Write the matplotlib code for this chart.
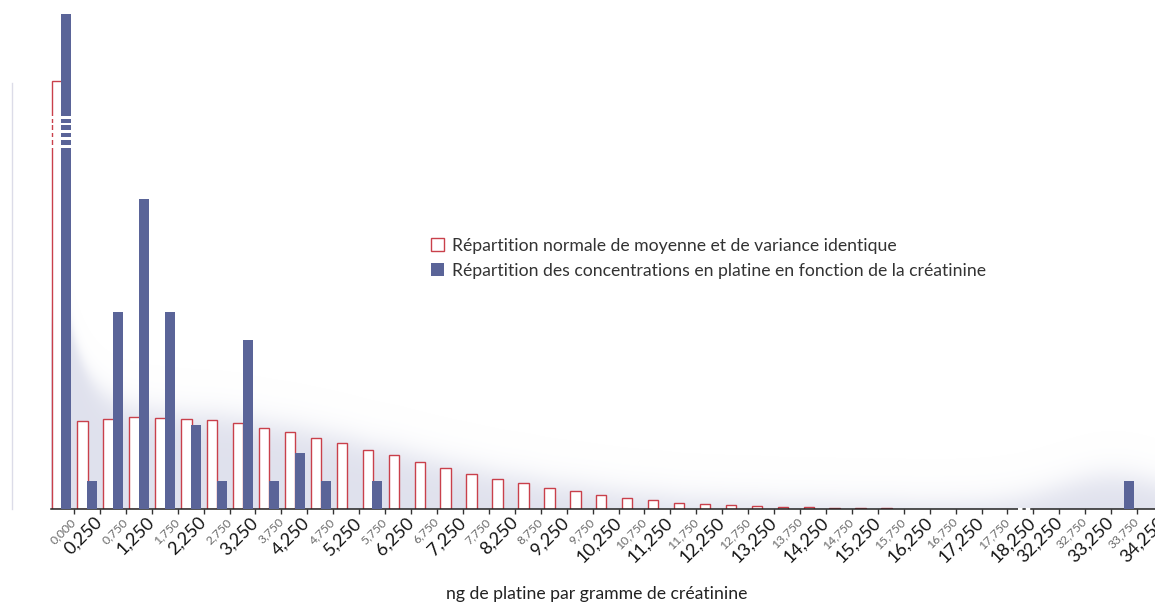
import numpy as np
import matplotlib
matplotlib.use('Agg')
import matplotlib.pyplot as plt
from matplotlib.lines import Line2D
from matplotlib.patches import Rectangle

plt.rcParams['font.family'] = ['Lato', 'DejaVu Sans']

# bin labels (ng Pt / g creatinine)
tick_labels = ['0,000', '0,250', '0,750', '1,250', '1,750', '2,250', '2,750', '3,250',
               '3,750', '4,250', '4,750', '5,250', '5,750', '6,250', '6,750', '7,250',
               '7,750', '8,250', '8,750', '9,250', '9,750', '10,250', '10,750', '11,250',
               '11,750', '12,250', '12,750', '13,250', '13,750', '14,250', '14,750', '15,250',
               '15,750', '16,250', '16,750', '17,250', '17,750', '18,250', '32,250', '32,750',
               '33,250', '33,750', '34,250']

# expected counts for a normal law with same mean / variance
normal_values = [15.2, 3.12, 3.21, 3.26, 3.24, 3.19, 3.16, 3.05, 2.87, 2.73, 2.54, 2.34,
                 2.09, 1.91, 1.67, 1.45, 1.26, 1.06, 0.92, 0.74, 0.64, 0.51, 0.39, 0.32,
                 0.22, 0.18, 0.14, 0.12, 0.07, 0.07, 0.05, 0.04, 0.04, 0, 0, 0,
                 0, 0, 0, 0, 0, 0, 0]

# observed counts
platine_values = [17.55, 1, 7, 11, 7, 3, 1, 6, 1, 2, 1, 0,
                  1, 0, 0, 0, 0, 0, 0, 0, 0, 0, 0, 0,
                  0, 0, 0, 0, 0, 0, 0, 0, 0, 0, 0, 0,
                  0, 0, 0, 0, 0, 1, 0]

legend_labels = ['Répartition normale de moyenne et de variance identique',
                 'Répartition des concentrations en platine en fonction de la créatinine']

red = '#c9404b'
blue = '#5a6498'

W, H = 1155, 603
fig = plt.figure(figsize=(W / 100, H / 100), dpi=100)

xmin, xmax = -0.386, 42.96
ymax = 18
ax = fig.add_axes([51 / W, (H - 509.3) / H, (1175 - 51) / W, ymax * 28.2 / H])
ax.set_xlim(xmin, xmax)
ax.set_ylim(0, ymax)

x = np.arange(len(tick_labels))
normal = np.array(normal_values)
platine = np.array(platine_values)

# soft background glow following the normal curve
xs = np.linspace(xmin, xmax, 1400)
ys = np.linspace(0, ymax, 600)
env = np.interp(xs, x[1:], normal[1:])
env = env + 3.5 * np.exp(-np.clip(xs - 0.3, 0, None) / 0.9)
env = env + platine[41] * np.exp(-((xs - 40.6) / 3.0) ** 2) + 0.15
X, Y = np.meshgrid(xs, ys)
alpha = 0.85 / (1 + np.exp((Y - env[None, :]) / 0.3))
img = np.zeros((len(ys), len(xs), 4))
img[..., 0] = 0.855
img[..., 1] = 0.863
img[..., 2] = 0.918
img[..., 3] = alpha
ax.imshow(img, extent=[xmin, xmax, 0, ymax], origin='lower', aspect='auto',
          interpolation='bilinear', zorder=0)

mask = normal > 0
red_bars = ax.bar(x[mask] - 0.166, normal[mask], width=0.40, facecolor='white',
                  edgecolor=red, linewidth=1.0, zorder=2)
blue_bars = ax.bar(x + 0.204, platine, width=0.386, color=blue, linewidth=0, zorder=3)

# break marks on the truncated first pair
for yc in [13.9, 13.66, 13.4, 13.14, 12.87]:
    ax.add_patch(Rectangle((-0.45, yc - 0.045), 0.9, 0.09, facecolor='white',
                           edgecolor='none', zorder=5))

for side in ['left', 'right', 'top']:
    ax.spines[side].set_visible(False)
ax.spines['bottom'].set_color('#222222')
ax.spines['bottom'].set_linewidth(1.1)
ax.set_yticks([])

# break in the x axis between 18,250 and 32,250
ax.plot([36.9, 37.5], [0, 0], color='white', lw=1.6, ls=(0, (2, 1.5)),
        zorder=6, clip_on=False)

ax.set_xticks(x + 0.5)
ax.set_xticklabels(tick_labels, rotation=45, ha='right', va='center',
                   rotation_mode='anchor')
ax.tick_params(axis='x', length=3.6, width=1, color='#333333', pad=4)
for lab in ax.get_xticklabels():
    if lab.get_text().endswith('250'):
        lab.set_fontsize(13)
        lab.set_color('#141414')
    else:
        lab.set_fontsize(8.8)
        lab.set_color('#6a6a6a')

ax.legend([red_bars, blue_bars], legend_labels, loc='upper left',
          bbox_to_anchor=(431 / W, 1 - 238 / H), bbox_transform=fig.transFigure,
          frameon=False, fontsize=12.7, labelcolor='#333333', handlelength=0.75,
          handleheight=0.75, handletextpad=0.45, labelspacing=0.5,
          borderpad=0, borderaxespad=0)

fig.text(597 / W, 1 - 594 / H, 'ng de platine par gramme de créatinine',
         ha='center', va='center', fontsize=12.7, color='#222222')

# faint vertical rule on the far left
fig.add_artist(Line2D([12 / W, 12 / W], [1 - 509 / H, 1 - 83 / H],
                      color='#dcdce8', lw=1))

fig.savefig('out.png', dpi=100)
